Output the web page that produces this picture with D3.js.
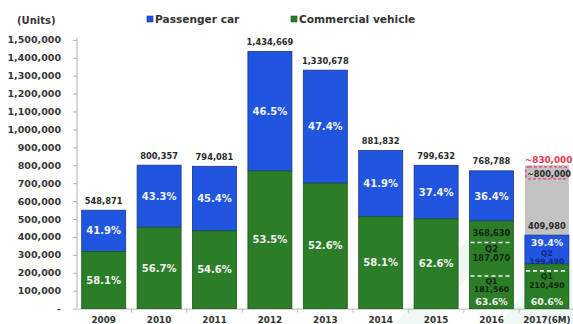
<!DOCTYPE html>
<html>
<head>
<meta charset="utf-8">
<script src="https://cdn.jsdelivr.net/npm/d3@7/dist/d3.min.js"></script>
<style>
  html, body { margin: 0; padding: 0; background: #fff; }
  svg { display: block; font-family: "DejaVu Sans", Verdana, sans-serif; font-weight: bold; }
</style>
</head>
<body>
<svg id="chart" width="573" height="324"></svg>
<script>
// Annual vehicle volumes, split by segment
const years = ["2009", "2010", "2011", "2012", "2013", "2014", "2015", "2016", "2017(6M)"];
const totals = [548871, 800357, 794081, 1434669, 1330678, 881832, 799632, 768788, 409980];
const commercialShare = [58.1, 56.7, 54.6, 53.5, 52.6, 58.1, 62.6, 63.6, 60.6];
const passengerShare = [41.9, 43.3, 45.4, 46.5, 47.4, 41.9, 37.4, 36.4, 39.4];
const yTicks = [0, 100000, 200000, 300000, 400000, 500000, 600000, 700000, 800000,
                900000, 1000000, 1100000, 1200000, 1300000, 1400000, 1500000];

// First-half breakdowns by quarter
const h1Year2016 = "2016";
const q1_2016 = 181560;
const q2_2016 = 187070;
const h1_2016 = 368630;
const fullYear = "2017(6M)";
const q1_2017 = 210490;
const q2_2017 = 199490;
// Full-year 2017 outlook
const forecast2017 = 800000;
const forecast2017High = 830000;

const blue = "#1f55df", blueEdge = "#17338f";
const green = "#2b7d27", greenEdge = "#1d5a1b";
const fmt = d3.format(",");

const svg = d3.select("#chart");

const x = d3.scaleBand().domain(years).range([77, 573.6]).paddingInner(0.206).paddingOuter(0.085);
const y = d3.scaleLinear().domain([0, 1500000]).range([308.6, 39.8]);

const rows = years.map((yr, i) => {
  const commercial = totals[i] * commercialShare[i] / 100;
  return { yr, total: totals[i], commercial, cShare: commercialShare[i], pShare: passengerShare[i] };
});

// Faint background motif behind the last columns
svg.append("path")
  .attr("d", "M395,324 L470,236 L500,236 L430,324 Z M500,324 L540,270 L573,270 L573,324 Z")
  .attr("fill", "#e4f3ec").attr("opacity", 0.55);

// Axes
const yAxis = svg.append("g").attr("transform", "translate(77,0)")
  .call(d3.axisLeft(y).tickValues(yTicks).tickSize(4).tickPadding(12)
    .tickFormat(d => d === 0 ? "-" : fmt(d)));
yAxis.select(".domain").attr("stroke", "#b0b0b0").attr("d", `M0,${y(1500000) - 2}V${y(0)}`);
yAxis.selectAll(".tick line").attr("stroke", "#b0b0b0");
yAxis.selectAll(".tick text").attr("fill", "#363636").attr("font-size", 9.5)
  .attr("font-family", "DejaVu Sans").attr("font-weight", "bold");

const xAxis = svg.append("g").attr("transform", `translate(0,${y(0)})`)
  .call(d3.axisBottom(x).tickSize(0).tickPadding(8));
xAxis.select(".domain").attr("stroke", "#b8b8b8");
xAxis.selectAll(".tick text").attr("fill", "#333").attr("font-size", 8.8)
  .attr("font-family", "DejaVu Sans").attr("font-weight", "bold");
// Separators between categories
svg.append("g").selectAll("line")
  .data(years.slice(1))
  .join("line")
  .attr("x1", d => x(d) - x.step() * x.paddingInner() / 2)
  .attr("x2", d => x(d) - x.step() * x.paddingInner() / 2)
  .attr("y1", y(0)).attr("y2", y(0) + 4)
  .attr("stroke", "#b8b8b8");

// 2017 outlook bar (grey), drawn under the actual half-year bar
svg.append("rect")
  .attr("x", x(fullYear)).attr("width", x.bandwidth())
  .attr("y", y(forecast2017)).attr("height", y(totals[8]) - y(forecast2017))
  .attr("fill", "#c3c3c3");

// Stacked bars
const bars = svg.append("g");
bars.selectAll("rect.pc").data(rows).join("rect").attr("class", "pc")
  .attr("x", d => x(d.yr)).attr("width", x.bandwidth())
  .attr("y", d => y(d.total)).attr("height", d => y(d.commercial) - y(d.total))
  .attr("fill", blue).attr("stroke", blueEdge).attr("stroke-width", 0.8);
bars.selectAll("rect.cv").data(rows).join("rect").attr("class", "cv")
  .attr("x", d => x(d.yr)).attr("width", x.bandwidth())
  .attr("y", d => y(d.commercial)).attr("height", d => y(0) - y(d.commercial))
  .attr("fill", green).attr("stroke", greenEdge).attr("stroke-width", 0.8);

// Total labels above bars
svg.append("g").selectAll("text").data(rows).join("text")
  .attr("x", d => x(d.yr) + x.bandwidth() / 2)
  .attr("y", d => y(d.total) - 6.5)
  .attr("text-anchor", "middle").attr("font-size", 8.3).attr("fill", "#2a2a2a")
  .text(d => fmt(d.total));

// Share labels
const special = new Set([h1Year2016, fullYear]);
svg.append("g").selectAll("text").data(rows).join("text")
  .attr("x", d => x(d.yr) + x.bandwidth() / 2)
  .attr("y", d => d.yr === fullYear ? y(d.total) + 11 : (y(d.total) + y(d.commercial)) / 2 + 3.6)
  .attr("text-anchor", "middle").attr("font-size", d => d.yr === fullYear ? 9.4 : 10).attr("fill", "#f2f2f2")
  .text(d => d.pShare.toFixed(1) + "%");
svg.append("g").selectAll("text").data(rows).join("text")
  .attr("x", d => x(d.yr) + x.bandwidth() / 2)
  .attr("y", d => special.has(d.yr) ? y(0) - 3.5 : (y(d.commercial) + y(0)) / 2 + 3.6)
  .attr("text-anchor", "middle").attr("font-size", d => special.has(d.yr) ? 9.4 : 10).attr("fill", "#f2f2f2")
  .text(d => d.cShare.toFixed(1) + "%");

// Quarter dividers and labels
function dashed(yr, v) {
  svg.append("line")
    .attr("x1", x(yr) + 1).attr("x2", x(yr) + x.bandwidth() - 1)
    .attr("y1", y(v)).attr("y2", y(v))
    .attr("stroke", "#f4f4f4").attr("stroke-width", 1.6).attr("stroke-dasharray", "4,3");
}
function label(yr, yPos, txt, color, size) {
  svg.append("text")
    .attr("x", x(yr) + x.bandwidth() / 2).attr("y", yPos)
    .attr("text-anchor", "middle").attr("font-size", size || 8.3).attr("fill", color)
    .text(txt);
}
const dark = "#13240f";
dashed(h1Year2016, h1_2016);
dashed(h1Year2016, q1_2016);
label(h1Year2016, y(h1_2016) - 6.5, fmt(h1_2016), dark);
label(h1Year2016, y(h1_2016) + 9, "Q2", dark);
label(h1Year2016, y(h1_2016) + 18.5, fmt(q2_2016), dark);
label(h1Year2016, y(q1_2016) + 8, "Q1", dark, 7.8);
label(h1Year2016, y(q1_2016) + 16, fmt(q1_2016), dark, 7.8);

dashed(fullYear, q1_2017);
label(fullYear, y(q1_2017) - 14.5, "Q2", "#1a2680", 7.6);
label(fullYear, y(q1_2017) - 6.5, fmt(q2_2017), "#1a2680", 7.6);
label(fullYear, y(q1_2017) + 8.5, "Q1", dark, 7.8);
label(fullYear, y(q1_2017) + 17, fmt(q1_2017), dark, 7.8);

// Outlook markers
const fx = x(fullYear);
svg.append("rect")
  .attr("x", fx + 1).attr("y", y(forecast2017High) + 7)
  .attr("width", x.bandwidth() - 2).attr("height", 12).attr("rx", 3)
  .attr("fill", "none").attr("stroke", "#e0407a").attr("stroke-width", 1.3)
  .attr("stroke-dasharray", "3,2");
svg.append("text").attr("x", fx).attr("y", y(forecast2017High) + 3)
  .attr("font-size", 8.8).attr("fill", "#e8364f").text("~" + fmt(forecast2017High));
svg.append("text").attr("x", fx + 2).attr("y", y(forecast2017) + 12)
  .attr("font-size", 8.2).attr("fill", "#2a2a2a").text("~" + fmt(forecast2017));

// Unit caption
svg.append("text").attr("x", 17).attr("y", 23.5).attr("font-size", 10).attr("fill", "#363636")
  .text("(Units)");

// Legend
const legend = [{ name: "Passenger car", color: blue, edge: blueEdge, x: 147 },
                { name: "Commercial vehicle", color: green, edge: greenEdge, x: 291 }];
const lg = svg.append("g").selectAll("g").data(legend).join("g")
  .attr("transform", d => `translate(${d.x},16)`);
lg.append("rect").attr("width", 6).attr("height", 6)
  .attr("fill", d => d.color).attr("stroke", d => d.edge).attr("stroke-width", 0.6);
lg.append("text").attr("x", 8).attr("y", 6.6).attr("font-size", 10.6).attr("fill", "#333")
  .text(d => d.name);
</script>
</body>
</html>
